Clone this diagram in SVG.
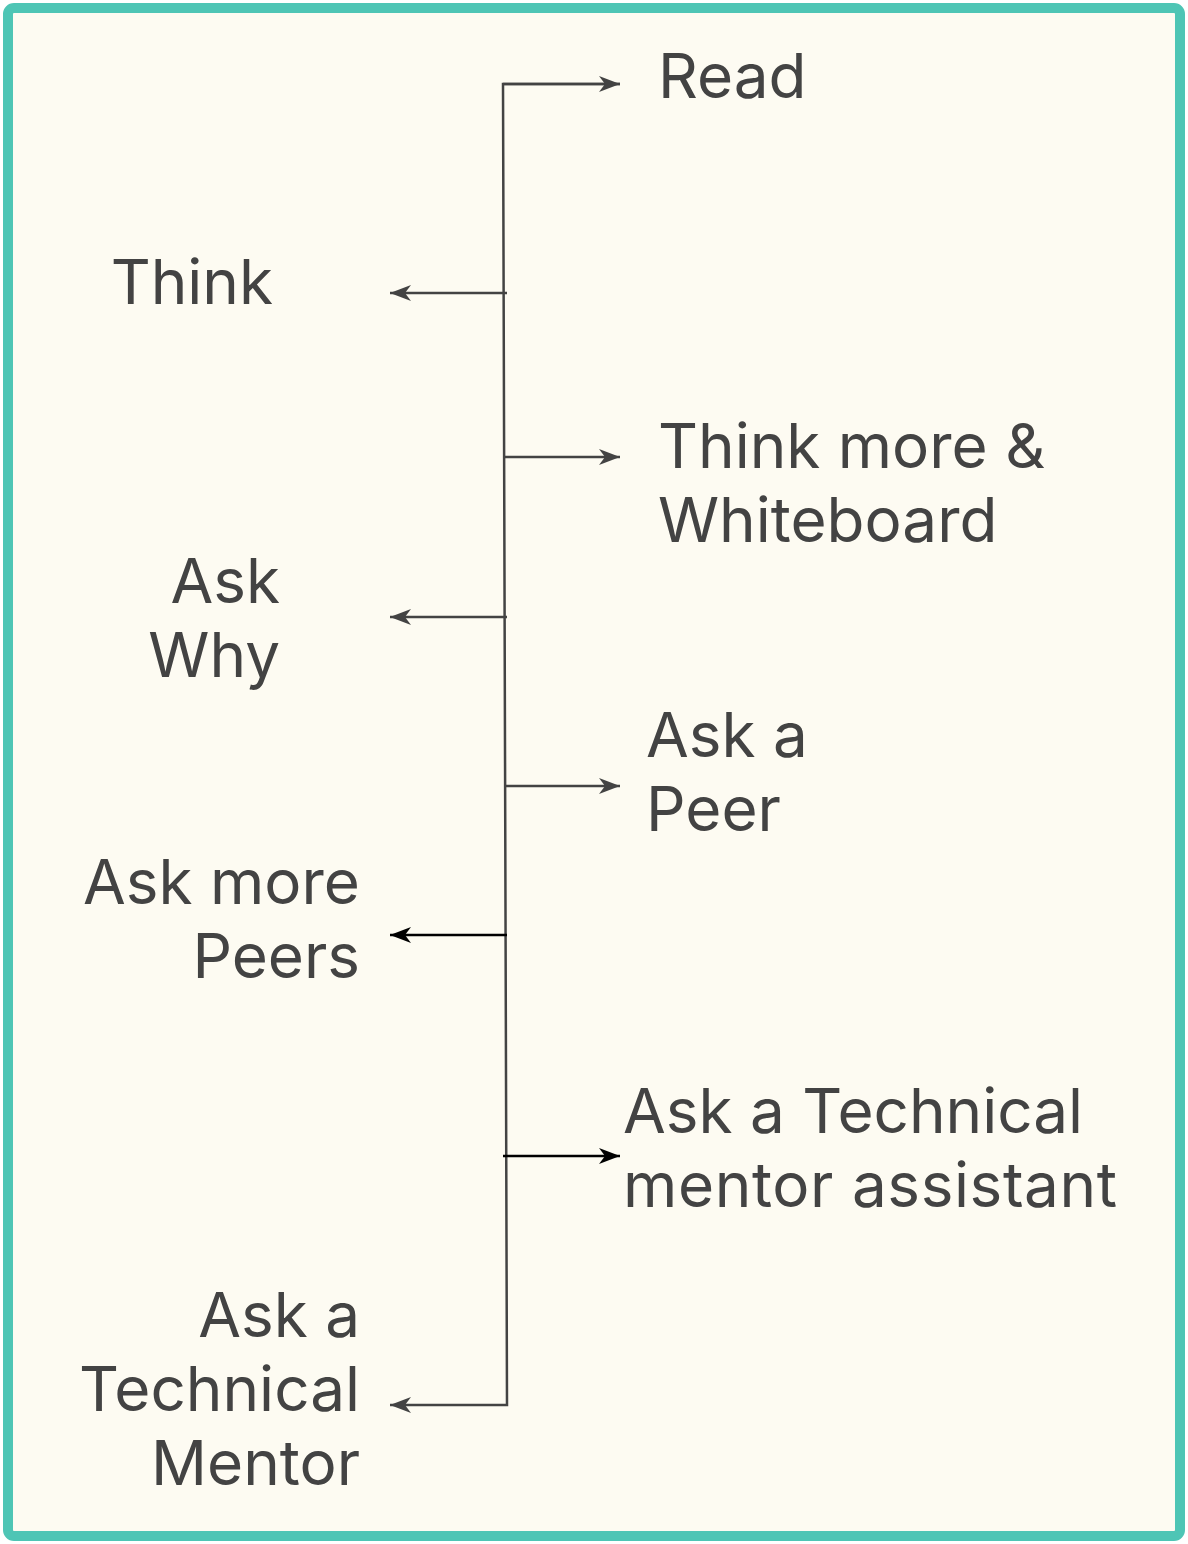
<svg xmlns="http://www.w3.org/2000/svg" width="1188" height="1544" viewBox="0 0 1188 1544">
<style>
.t{font-family:Inter,"Noto Sans","Liberation Sans",sans-serif;font-size:62px;fill:#434343}
.r{text-anchor:end}
.c{fill:none;stroke:#434343;stroke-width:2.5}
.k{fill:none;stroke:#000;stroke-width:2.5}
</style>
<defs>
<marker id="ag" markerUnits="userSpaceOnUse" markerWidth="24" markerHeight="20" viewBox="-22 -10 24 20" refX="0" refY="0" orient="auto">
<path d="M0,0 L-21,-8 L-15,0 L-21,8 Z" fill="#434343"/>
</marker>
<marker id="ak" markerUnits="userSpaceOnUse" markerWidth="24" markerHeight="20" viewBox="-22 -10 24 20" refX="0" refY="0" orient="auto">
<path d="M0,0 L-21,-8 L-15,0 L-21,8 Z" fill="#000"/>
</marker>
</defs>
<rect x="8" y="8" width="1172" height="1528" rx="6" fill="#fdfbf2" stroke="#4ec5b5" stroke-width="10"/>
<g id="connectors">
<path class="c" d="M620,84 L503,84 L507,1405 L390,1405" marker-end="url(#ag)"/>
<line class="c" x1="503" y1="84" x2="620" y2="84" marker-end="url(#ag)"/>
<line class="c" x1="507" y1="293" x2="390" y2="293" marker-end="url(#ag)"/>
<line class="c" x1="505" y1="457" x2="620" y2="457" marker-end="url(#ag)"/>
<line class="c" x1="507" y1="617" x2="390" y2="617" marker-end="url(#ag)"/>
<line class="c" x1="505" y1="786" x2="620" y2="786" marker-end="url(#ag)"/>
<line class="k" x1="507" y1="935" x2="390" y2="935" marker-end="url(#ak)"/>
<line class="k" x1="503" y1="1156" x2="620" y2="1156" marker-end="url(#ak)"/>
</g>
<g id="read"><text class="t" x="658" y="98">Read</text></g>
<g id="think"><text class="t r" x="273" y="304">Think</text></g>
<g id="think-more"><text class="t" x="658" y="468">Think more &amp;</text><text class="t" x="658" y="542">Whiteboard</text></g>
<g id="ask-why"><text class="t r" x="280" y="603">Ask</text><text class="t r" x="280" y="677">Why</text></g>
<g id="ask-peer"><text class="t" x="646" y="757">Ask a</text><text class="t" x="646" y="831">Peer</text></g>
<g id="ask-more-peers"><text class="t r" x="360" y="904">Ask more</text><text class="t r" x="360" y="978">Peers</text></g>
<g id="ask-tma"><text class="t" x="623" y="1133">Ask a Technical</text><text class="t" x="623" y="1207" style="letter-spacing:0.6px">mentor assistant</text></g>
<g id="ask-tm"><text class="t r" x="360" y="1337">Ask a</text><text class="t r" x="360" y="1411">Technical</text><text class="t r" x="360" y="1485">Mentor</text></g>
</svg>
